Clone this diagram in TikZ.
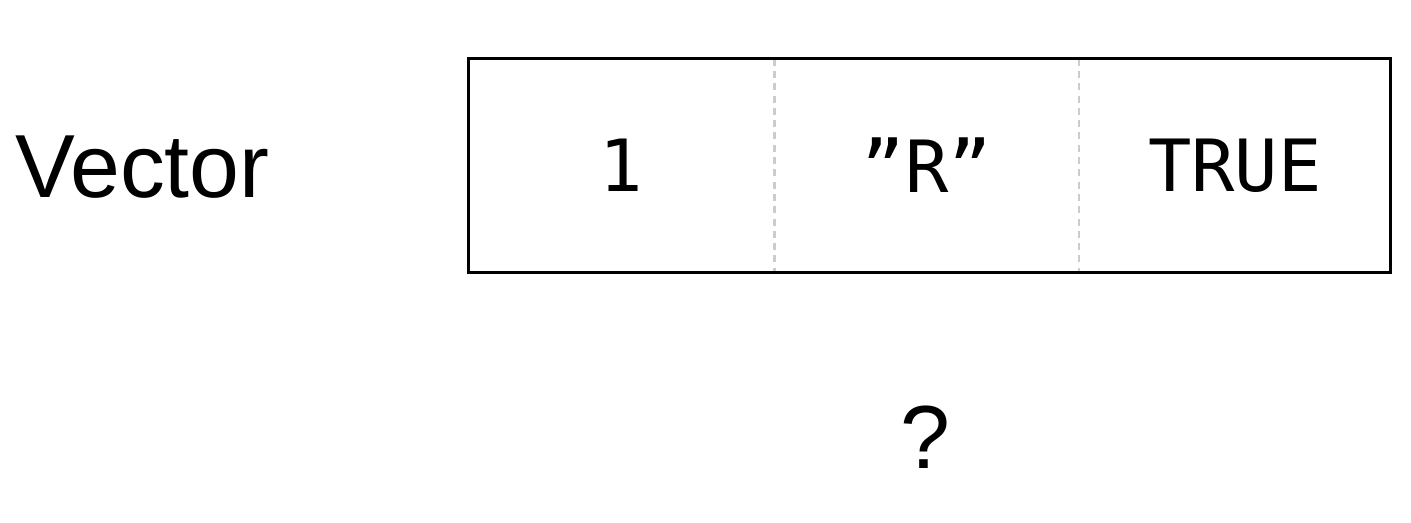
\documentclass[tikz,border=0pt]{standalone}
\usepackage{fontspec}
\setmainfont{Liberation Sans}
\newfontfamily\cellfont{DejaVu Sans Mono}
\usetikzlibrary{positioning}

\begin{document}
\begin{tikzpicture}[
      cell/.style={rectangle,draw=none,inner sep=0pt,minimum width=6.1cm,minimum height=4.26cm,font=\cellfont\fontsize{41}{48}\selectfont},
      label/.style={font=\fontsize{51}{58}\selectfont,inner sep=0pt},
      boxline/.style={line width=1.9pt,draw=black},
      divider/.style={line width=1.4pt,draw=black!20,dashed,dash pattern=on 4pt off 3pt}
      ]
      \useasboundingbox (0,0) rectangle (28.22,10.46);
      \node[label,anchor=west] (name) at (0.3,7.12) {Vector};
      \node[cell] (c1) at (12.43,7.15) {1};
      \node[cell,right=0pt of c1,minimum width=6.08cm] (c2) {”R”};
      \node[cell,right=0pt of c2,minimum width=6.22cm] (c3) {TRUE};
      \node[label] (ask) at (18.5,1.72) {?};
      \draw[divider] (c1.north east) -- (c1.south east);
      \draw[divider] (c2.north east) -- (c2.south east);
      \draw[boxline] (c1.north west) rectangle (c3.south east);
\end{tikzpicture}
\end{document}
